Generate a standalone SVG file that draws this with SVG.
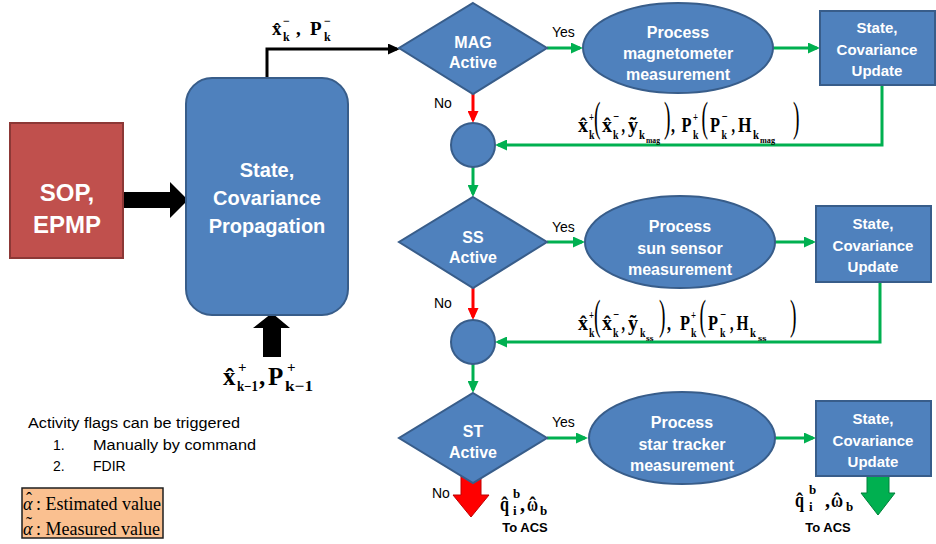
<svg xmlns="http://www.w3.org/2000/svg" width="936" height="544" viewBox="0 0 936 544">
<style>
.node{fill:#4F81BD;stroke:#385D8A;stroke-width:2}
.wt{font-family:"Liberation Sans",Arial,sans-serif;font-weight:bold;fill:#fff;text-anchor:middle}
.lbl{font-family:"Liberation Sans",Arial,sans-serif;fill:#000;font-size:14px}
.bl{font-family:"Liberation Sans",Arial,sans-serif;font-weight:bold;fill:#000;font-size:13px;text-anchor:middle}
.g{stroke:#00B050;stroke-width:3;fill:none}
.r{stroke:#FF0000;stroke-width:3;fill:none}
.k{stroke:#000;stroke-width:3;fill:none}
.m{font-family:"Liberation Serif","Times New Roman",serif;font-weight:bold;fill:#000}
.m22{font-size:22px}
.m13{font-size:13px}
.m9{font-size:9px}
.par{font-family:"Liberation Serif","Times New Roman",serif;font-weight:normal;font-size:42px;fill:#000}
.leg{font-family:"Liberation Serif","Times New Roman",serif;font-size:18px;fill:#000}
.acc{text-anchor:middle}
</style>
<defs>
<marker id="ag" markerUnits="userSpaceOnUse" markerWidth="13" markerHeight="11" refX="9" refY="5.5" orient="auto"><path d="M0,0 L12,5.5 L0,11 z" fill="#00B050"/></marker>
<marker id="ar" markerUnits="userSpaceOnUse" markerWidth="13" markerHeight="11" refX="9" refY="5.5" orient="auto"><path d="M0,0 L12,5.5 L0,11 z" fill="#FF0000"/></marker>
<marker id="ak" markerUnits="userSpaceOnUse" markerWidth="13" markerHeight="11" refX="9" refY="5.5" orient="auto"><path d="M0,0 L12,5.5 L0,11 z" fill="#000"/></marker>
</defs>
<rect width="936" height="544" fill="#fff"/>

<g id="connectors">
<polyline class="k" points="267,78 267,49 397,49" marker-end="url(#ak)"/>
<line class="g" x1="547" y1="48" x2="580" y2="48" marker-end="url(#ag)"/>
<line class="g" x1="773" y1="48" x2="817" y2="48" marker-end="url(#ag)"/>
<polyline class="g" points="882,85 882,145 498,145" marker-end="url(#ag)"/>
<line class="r" x1="473" y1="94" x2="473" y2="120" marker-end="url(#ar)"/>
<line class="g" x1="473" y1="167" x2="473" y2="194" marker-end="url(#ag)"/>
<line class="g" x1="547" y1="242" x2="582" y2="242" marker-end="url(#ag)"/>
<line class="g" x1="775" y1="242" x2="813" y2="242" marker-end="url(#ag)"/>
<polyline class="g" points="880,281 880,342 498,342" marker-end="url(#ag)"/>
<line class="r" x1="473" y1="288" x2="473" y2="317" marker-end="url(#ar)"/>
<line class="g" x1="473" y1="364" x2="473" y2="390" marker-end="url(#ag)"/>
<line class="g" x1="547" y1="438" x2="585" y2="438" marker-end="url(#ag)"/>
<line class="g" x1="775" y1="438" x2="813" y2="438" marker-end="url(#ag)"/>
<path d="M123,192 L170,192 L170,182 L188,200 L170,218 L170,208 L123,208 z" fill="#000"/>
<path d="M263,357 L263,328 L253,328 L272,313 L290,328 L281,328 L281,357 z" fill="#000"/>
<path d="M461,470 L481,470 L481,495 L489,495 L471,517 L453,495 L461,495 z" fill="#FF0000" stroke="#C00000" stroke-width="1"/>
<path d="M867,476 L889,476 L889,493 L895,493 L878,515 L861,493 L867,493 z" fill="#00B050" stroke="#00803A" stroke-width="1"/>
</g>

<g id="sop">
<rect x="10" y="123" width="113" height="135" fill="#C0504D" stroke="#8C3836" stroke-width="2"/>
<text class="wt" x="67" y="201" font-size="24">SOP,</text>
<text class="wt" x="67" y="233" font-size="24">EPMP</text>
</g>

<g id="propagation">
<rect class="node" x="186" y="78" width="162" height="237" rx="26"/>
<text class="wt" x="267" y="177" font-size="20">State,</text>
<text class="wt" x="267" y="205" font-size="20">Covariance</text>
<text class="wt" x="267" y="233" font-size="20">Propagation</text>
</g>

<g id="mag-active">
<polygon class="node" points="473,3 547,48 473,94 399,48"/>
<text class="wt" x="473" y="48" font-size="16">MAG</text>
<text class="wt" x="473" y="68" font-size="16">Active</text>
</g>
<g id="mag-process">
<ellipse class="node" cx="678" cy="48" rx="95" ry="45"/>
<text class="wt" x="678" y="38" font-size="16">Process</text>
<text class="wt" x="678" y="59" font-size="16">magnetometer</text>
<text class="wt" x="678" y="80" font-size="16">measurement</text>
</g>
<g id="mag-update">
<rect class="node" x="820" y="11" width="115" height="74"/>
<text class="wt" x="877" y="33" font-size="15">State,</text>
<text class="wt" x="877" y="55" font-size="15">Covariance</text>
<text class="wt" x="877" y="76" font-size="15">Update</text>
</g>
<g id="join1"><circle class="node" cx="473" cy="145" r="22"/></g>

<g id="ss-active">
<polygon class="node" points="473,197 547,242 473,288 399,242"/>
<text class="wt" x="473" y="243" font-size="16">SS</text>
<text class="wt" x="473" y="263" font-size="16">Active</text>
</g>
<g id="ss-process">
<ellipse class="node" cx="680" cy="242" rx="95" ry="46"/>
<text class="wt" x="680" y="232" font-size="16">Process</text>
<text class="wt" x="680" y="254" font-size="16">sun sensor</text>
<text class="wt" x="680" y="275" font-size="16">measurement</text>
</g>
<g id="ss-update">
<rect class="node" x="816" y="206" width="115" height="76"/>
<text class="wt" x="873" y="229" font-size="15">State,</text>
<text class="wt" x="873" y="251" font-size="15">Covariance</text>
<text class="wt" x="873" y="272" font-size="15">Update</text>
</g>
<g id="join2"><circle class="node" cx="473" cy="342" r="22"/></g>

<g id="st-active">
<polygon class="node" points="473,393 547,438 473,483 399,438"/>
<text class="wt" x="473" y="437" font-size="16">ST</text>
<text class="wt" x="473" y="458" font-size="16">Active</text>
</g>
<g id="st-process">
<ellipse class="node" cx="682" cy="438" rx="93" ry="46"/>
<text class="wt" x="682" y="428" font-size="16">Process</text>
<text class="wt" x="682" y="450" font-size="16">star tracker</text>
<text class="wt" x="682" y="471" font-size="16">measurement</text>
</g>
<g id="st-update">
<rect class="node" x="816" y="401" width="115" height="75"/>
<text class="wt" x="873" y="424" font-size="15">State,</text>
<text class="wt" x="873" y="446" font-size="15">Covariance</text>
<text class="wt" x="873" y="467" font-size="15">Update</text>
</g>

<g id="labels">
<text class="lbl" x="552" y="37" font-size="15">Yes</text>
<text class="lbl" x="552" y="232" font-size="15">Yes</text>
<text class="lbl" x="552" y="427" font-size="15">Yes</text>
<text class="lbl" x="434" y="108" font-size="15">No</text>
<text class="lbl" x="434" y="308" font-size="15">No</text>
<text class="lbl" x="432" y="498" font-size="15">No</text>
<text class="bl" x="525" y="532">To ACS</text>
<text class="bl" x="828" y="532">To ACS</text>
</g>

<g id="eq-top" class="m">
<text x="272" y="35" font-size="19">x̂</text>
<text x="283" y="25" font-size="12">−</text>
<text x="283" y="41" font-size="12">k</text>
<text x="296" y="35" font-size="19">,</text>
<text x="310" y="35" font-size="19">P</text>
<text x="324" y="25" font-size="12">−</text>
<text x="324" y="41" font-size="12">k</text>
</g>

<g id="eq-bottom" class="m">
<text x="223" y="385" font-size="25">x̂</text>
<text x="238" y="372" font-size="15">+</text>
<text x="237" y="391" font-size="14" textLength="21" lengthAdjust="spacingAndGlyphs">k−1</text>
<text x="259" y="385" font-size="25">,</text>
<text x="268" y="385" font-size="25">P</text>
<text x="287" y="372" font-size="15">+</text>
<text x="285" y="391" font-size="15" textLength="28" lengthAdjust="spacingAndGlyphs">k−1</text>
</g>

<g id="eq-mag" class="m">
<text class="m22" x="578" y="132" textLength="10" lengthAdjust="spacingAndGlyphs">x̂</text>
<text class="m13" x="589" y="121" textLength="5" lengthAdjust="spacingAndGlyphs">+</text>
<text class="m13" x="589" y="139" textLength="5.5" lengthAdjust="spacingAndGlyphs">k</text>
<text class="par" x="594" y="131" textLength="6.5" lengthAdjust="spacingAndGlyphs">(</text>
<text class="m22" x="602" y="132" textLength="10" lengthAdjust="spacingAndGlyphs">x̂</text>
<text class="m13" x="613" y="121" textLength="6" lengthAdjust="spacingAndGlyphs">−</text>
<text class="m13" x="613" y="139" textLength="5.5" lengthAdjust="spacingAndGlyphs">k</text>
<text class="m22" x="621.5" y="132" textLength="3.5" lengthAdjust="spacingAndGlyphs">,</text>
<text class="m22" x="628" y="132" textLength="10" lengthAdjust="spacingAndGlyphs">ỹ</text>
<text class="m13" x="639" y="139" textLength="6" lengthAdjust="spacingAndGlyphs">k</text>
<text class="m9" x="646" y="143" textLength="14" lengthAdjust="spacingAndGlyphs">mag</text>
<text class="par" x="664" y="131" textLength="6.5" lengthAdjust="spacingAndGlyphs">)</text>
<text class="m22" x="671" y="132" textLength="4" lengthAdjust="spacingAndGlyphs">,</text>
<text class="m22" x="681.5" y="132" textLength="10" lengthAdjust="spacingAndGlyphs">P</text>
<text class="m13" x="693" y="121" textLength="5" lengthAdjust="spacingAndGlyphs">+</text>
<text class="m13" x="693" y="139" textLength="5.5" lengthAdjust="spacingAndGlyphs">k</text>
<text class="par" x="701.5" y="131" textLength="6.5" lengthAdjust="spacingAndGlyphs">(</text>
<text class="m22" x="710" y="132" textLength="10" lengthAdjust="spacingAndGlyphs">P</text>
<text class="m13" x="721.5" y="121" textLength="6" lengthAdjust="spacingAndGlyphs">−</text>
<text class="m13" x="721.5" y="139" textLength="5.5" lengthAdjust="spacingAndGlyphs">k</text>
<text class="m22" x="731.5" y="132" textLength="3.5" lengthAdjust="spacingAndGlyphs">,</text>
<text class="m22" x="738" y="132" textLength="13.5" lengthAdjust="spacingAndGlyphs">H</text>
<text class="m13" x="753" y="139" textLength="6" lengthAdjust="spacingAndGlyphs">k</text>
<text class="m9" x="760" y="143" textLength="15" lengthAdjust="spacingAndGlyphs">mag</text>
<text class="par" x="793" y="131" textLength="6.5" lengthAdjust="spacingAndGlyphs">)</text>
</g>

<g id="eq-ss" class="m">
<text class="m22" x="578" y="330" textLength="10" lengthAdjust="spacingAndGlyphs">x̂</text>
<text class="m13" x="589" y="319" textLength="5" lengthAdjust="spacingAndGlyphs">+</text>
<text class="m13" x="589" y="337" textLength="5.5" lengthAdjust="spacingAndGlyphs">k</text>
<text class="par" x="594" y="329" textLength="6.5" lengthAdjust="spacingAndGlyphs">(</text>
<text class="m22" x="602" y="330" textLength="10" lengthAdjust="spacingAndGlyphs">x̂</text>
<text class="m13" x="613" y="319" textLength="6" lengthAdjust="spacingAndGlyphs">−</text>
<text class="m13" x="613" y="337" textLength="5.5" lengthAdjust="spacingAndGlyphs">k</text>
<text class="m22" x="621.5" y="330" textLength="3.5" lengthAdjust="spacingAndGlyphs">,</text>
<text class="m22" x="628" y="330" textLength="10" lengthAdjust="spacingAndGlyphs">ỹ</text>
<text class="m13" x="640" y="337" textLength="5.5" lengthAdjust="spacingAndGlyphs">k</text>
<text class="m9" x="646" y="341" textLength="7.5" lengthAdjust="spacingAndGlyphs">ss</text>
<text class="par" x="659" y="329" textLength="6.5" lengthAdjust="spacingAndGlyphs">)</text>
<text class="m22" x="667" y="330" textLength="4" lengthAdjust="spacingAndGlyphs">,</text>
<text class="m22" x="680" y="330" textLength="10" lengthAdjust="spacingAndGlyphs">P</text>
<text class="m13" x="691" y="319" textLength="5" lengthAdjust="spacingAndGlyphs">+</text>
<text class="m13" x="691" y="337" textLength="5.5" lengthAdjust="spacingAndGlyphs">k</text>
<text class="par" x="699.5" y="329" textLength="6.5" lengthAdjust="spacingAndGlyphs">(</text>
<text class="m22" x="708" y="330" textLength="10" lengthAdjust="spacingAndGlyphs">P</text>
<text class="m13" x="720" y="319" textLength="6" lengthAdjust="spacingAndGlyphs">−</text>
<text class="m13" x="720" y="337" textLength="5.5" lengthAdjust="spacingAndGlyphs">k</text>
<text class="m22" x="730" y="330" textLength="3.5" lengthAdjust="spacingAndGlyphs">,</text>
<text class="m22" x="736.5" y="330" textLength="12" lengthAdjust="spacingAndGlyphs">H</text>
<text class="m13" x="750" y="337" textLength="6" lengthAdjust="spacingAndGlyphs">k</text>
<text class="m9" x="758" y="341" textLength="8.5" lengthAdjust="spacingAndGlyphs">ss</text>
<text class="par" x="790" y="329" textLength="6.5" lengthAdjust="spacingAndGlyphs">)</text>
</g>

<g id="eq-out-red" class="m">
<text x="500" y="511" font-size="20" textLength="9" lengthAdjust="spacingAndGlyphs">q</text>
<text class="acc" x="504.5" y="512" font-size="20">ˆ</text>
<text x="513" y="498" font-size="13">b</text>
<text x="513" y="515" font-size="13">i</text>
<text x="520" y="511" font-size="20">,</text>
<text x="527" y="511" font-size="20" textLength="11" lengthAdjust="spacingAndGlyphs">ω</text>
<text class="acc" x="532.5" y="512" font-size="20">ˆ</text>
<text x="540" y="515" font-size="13">b</text>
</g>
<g id="eq-out-green" class="m">
<text x="795" y="507" font-size="20" textLength="9" lengthAdjust="spacingAndGlyphs">q</text>
<text class="acc" x="799.5" y="508" font-size="20">ˆ</text>
<text x="809" y="494" font-size="13">b</text>
<text x="809" y="511" font-size="13">i</text>
<text x="825" y="507" font-size="20">,</text>
<text x="831" y="507" font-size="20" textLength="12" lengthAdjust="spacingAndGlyphs">ω</text>
<text class="acc" x="837" y="508" font-size="20">ˆ</text>
<text x="846" y="511" font-size="13">b</text>
</g>

<g id="notes">
<text class="lbl" x="28" y="428" font-size="16" textLength="212" lengthAdjust="spacingAndGlyphs">Activity flags can be triggered</text>
<text class="lbl" x="53" y="450" font-size="16">1.</text>
<text class="lbl" x="93" y="450" font-size="16" textLength="163" lengthAdjust="spacingAndGlyphs">Manually by command</text>
<text class="lbl" x="53" y="471" font-size="16">2.</text>
<text class="lbl" x="93" y="471" font-size="16">FDIR</text>
</g>

<g id="legend">
<rect x="22" y="488" width="141" height="50" fill="#FAC090" stroke="#1F1F1F" stroke-width="1.5"/>
<text class="leg" x="23" y="510" font-style="italic">α</text>
<text class="leg acc" x="29" y="505">ˆ</text>
<text class="leg" x="36" y="510">: Estimated value</text>
<text class="leg" x="23" y="535" font-style="italic">α</text>
<text class="leg acc" x="29" y="530">˜</text>
<text class="leg" x="36" y="535">: Measured value</text>
</g>
</svg>
